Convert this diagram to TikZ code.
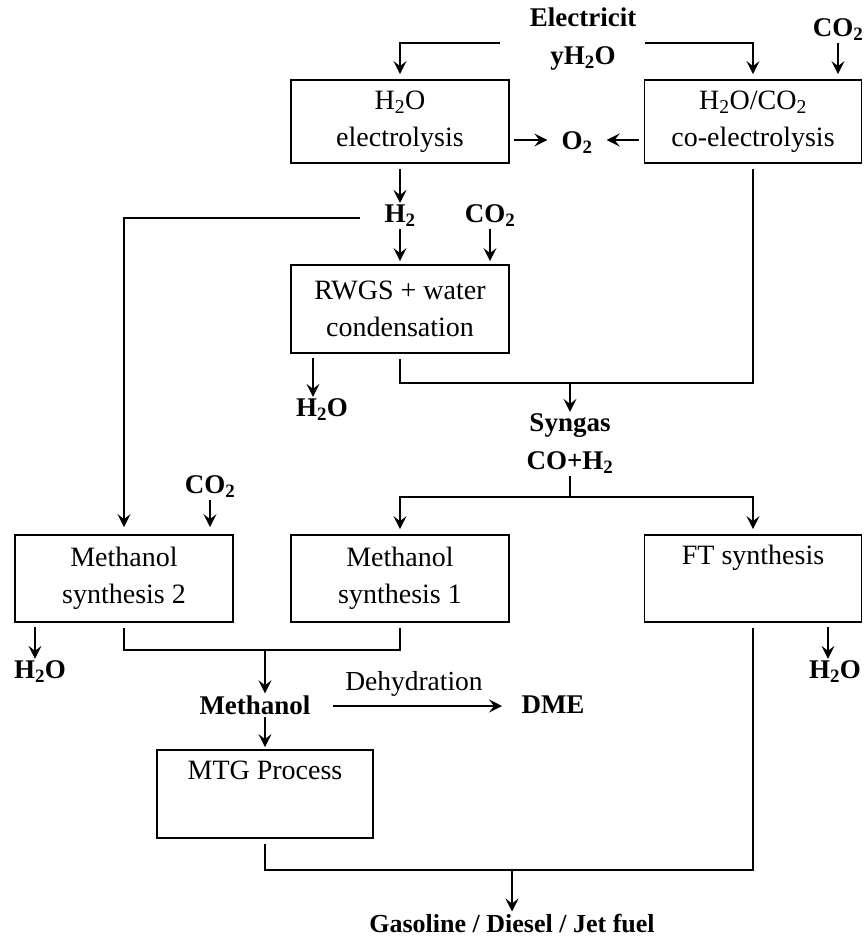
\documentclass[tikz,border=0pt]{standalone}
\usepackage{fontspec}
\setmainfont{Liberation Serif}
\usetikzlibrary{arrows.meta,calc}
\begin{document}
\begin{tikzpicture}[x=1pt,y=-1pt,
  box/.style={draw,line width=1.8pt,minimum width=218pt,minimum height=87pt,align=center,inner sep=0pt,font=\fontsize{28}{37}\selectfont},
  lbl/.style={font=\fontsize{27}{38}\selectfont\bfseries,inner sep=2pt,align=center},
  conn/.style={line width=1.8pt},
  arr/.style={line width=1.8pt,-{Stealth[length=13pt,width=13pt,inset=5pt]}}]
\useasboundingbox (0,0) rectangle (865,939);
% nodes
\node[lbl] (elecT) at (583,39) {Electricit\\yH\textsubscript{2}O};
\node[lbl] (co2a) at (838,30) {CO\textsubscript{2}};
\node[box,minimum height=83pt] (elec) at (400,121.5) {H\textsubscript{2}O\\electrolysis};
\node[box,minimum width=217pt,minimum height=83pt] (coel) at (753,121.5) {H\textsubscript{2}O/CO\textsubscript{2}\\co-electrolysis};
\node[lbl] (o2) at (577,143) {O\textsubscript{2}};
\node[lbl] (h2) at (400,216) {H\textsubscript{2}};
\node[lbl] (co2b) at (490,216) {CO\textsubscript{2}};
\node[box,minimum height=88pt] (rwgs) at (400,309) {RWGS + water\\condensation};
\node[lbl] (h2oa) at (322,410) {H\textsubscript{2}O};
\node[lbl] (syngas) at (570,444) {Syngas\\CO+H\textsubscript{2}};
\node[lbl] (co2c) at (210,487) {CO\textsubscript{2}};
\node[box] (ms2) at (124,578.5) {Methanol\\synthesis 2};
\node[box] (ms1) at (400,578.5) {Methanol\\synthesis 1};
\node[box,minimum width=217pt] (ft) at (753,578.5) {FT synthesis\\\strut};
\node[lbl] (h2ob) at (40,672) {H\textsubscript{2}O};
\node[lbl] (h2oc) at (835,672) {H\textsubscript{2}O};
\node[lbl] (meth) at (255,705) {Methanol};
\node[lbl] (dme) at (553,705) {DME};
\node[font=\fontsize{27.5}{30}\selectfont,inner sep=2pt] (dehyd) at (414,684) {Dehydration};
\node[box,minimum width=216pt,minimum height=88pt] (mtg) at (265,794) {MTG Process\\\strut};
\node[lbl,font=\fontsize{26}{30}\selectfont\bfseries] (fuel) at (512,923) {Gasoline / Diesel / Jet fuel};
% helper coordinates
\coordinate (eL) at (500,43);
\coordinate (eR) at (645,43);
\coordinate (coelN) at ([yshift=5pt]coel.north);
\coordinate (rwN) at ([yshift=3pt]rwgs.north);
\coordinate (j1) at (753,383);
\coordinate (sp) at (570,497);
\coordinate (ms2N) at ([yshift=7pt]ms2.north);
\coordinate (h2L) at (360,218);
\coordinate (rwA) at (313,358);
\coordinate (ms2A) at (35,627);
\coordinate (ftA) at (828,627);
\coordinate (mJ) at (265,650);
\coordinate (mtgJ) at (512,870);
\coordinate (dmeS) at (333,706);
\coordinate (dmeE) at (502,706);
% connectors
\draw[arr] (eL) -| ([yshift=5pt]elec.north);
\draw[arr] (eR) -| (coelN);
\draw[arr] (co2a.south) -- (co2a.south |- coelN);
\draw[arr] ([xshift=4pt]elec.east |- 0,140) -- ([xshift=-12pt]o2.west |- 0,140);
\draw[arr] ([xshift=-5pt]coel.west |- 0,140) -- ([xshift=12pt]o2.east |- 0,140);
\draw[arr] ([yshift=-5pt]elec.south) -- (h2.north);
\draw[arr] (h2L) -| (ms2N);
\draw[arr] (h2.south) -- (h2.south |- rwN);
\draw[arr] (co2b.south) -- (co2b.south |- rwN);
\draw[arr] (rwA) -- (rwA |- h2oa.north);
\draw[conn] ([yshift=-5pt]rwgs.south) |- (j1) -- ([yshift=-5pt]coel.south);
\draw[arr] (syngas.north |- j1) -- (syngas.north);
\draw[conn] (syngas.south) -- (sp);
\draw[arr] (sp) -| ([yshift=5pt]ms1.north);
\draw[arr] (sp) -| ([yshift=5pt]ft.north);
\draw[arr] (co2c.south) -- (co2c.south |- ms2N);
\draw[arr] (ms2A) -- (ms2A |- h2ob.north);
\draw[arr] (ftA) -- (ftA |- h2oc.north);
\draw[conn] ([yshift=-5pt]ms2.south) |- (mJ) -| ([yshift=-5pt]ms1.south);
\draw[arr] (mJ) -- (mJ |- meth.north);
\draw[arr] (dmeS) -- (dmeE);
\draw[arr] (meth.south -| mJ) -- ([yshift=2pt]mtg.north -| mJ);
\draw[conn] ([yshift=-5pt]mtg.south) |- (mtgJ) -| ([yshift=-5pt]ft.south);
\draw[arr] (mtgJ) -- (fuel.north);
\end{tikzpicture}
\end{document}
